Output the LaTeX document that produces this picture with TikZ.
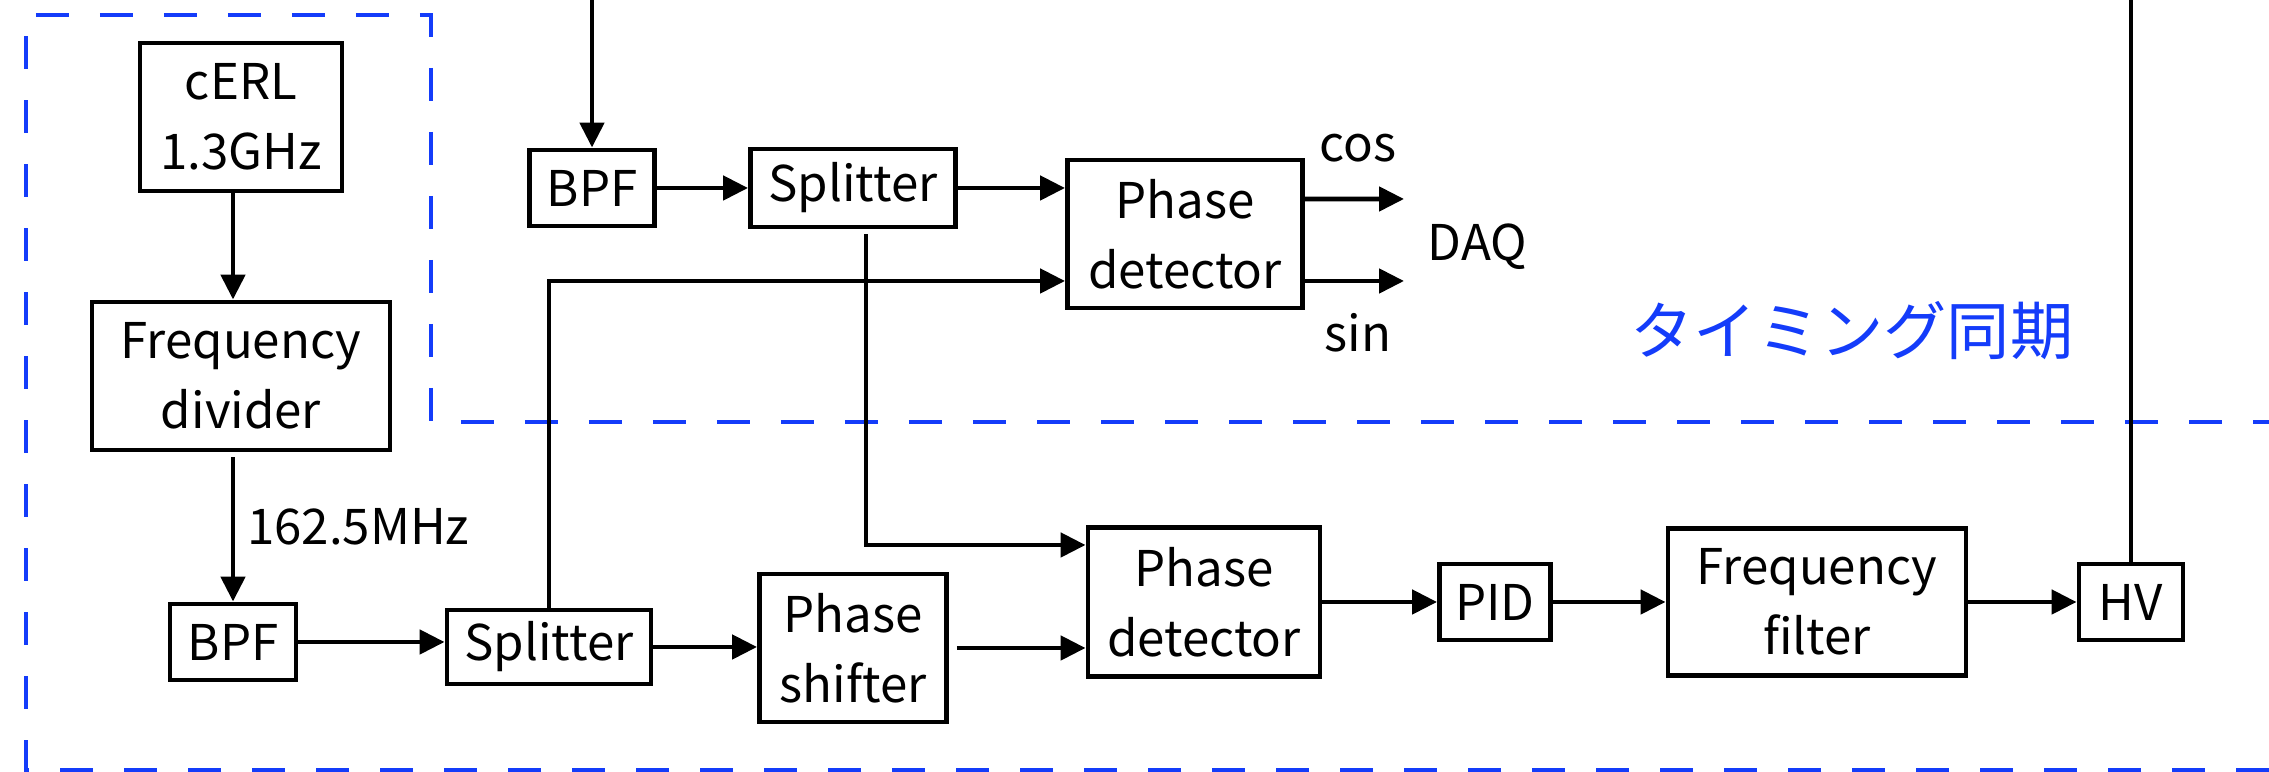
\documentclass[tikz,border=0pt]{standalone}
\usepackage{fontspec}
\setmainfont{Noto Sans CJK JP}
\usepackage{tikz}
\usetikzlibrary{arrows.meta, positioning}
\definecolor{syncblue}{RGB}{20,60,250}

\begin{document}
\begin{tikzpicture}[
		blk/.style={draw, line width=1.4pt, align=center, inner sep=0pt, font=\fontsize{14}{20}\selectfont},
		arr/.style={line width=1.4pt, -{Triangle[length=0.25cm,width=0.24cm]}},
		wire/.style={line width=1.4pt},
		lbl/.style={font=\fontsize{14}{20}\selectfont},
		zone/.style={syncblue, line width=1.4pt, dash pattern=on 0.33cm off 0.31cm}]
			\useasboundingbox (0,0) rectangle (22.69,-7.72);
			% timing sync zone
			\draw[zone] (22.69,-7.70) -- (0.26,-7.70) -- (0.26,-0.15) -- (4.31,-0.15) -- (4.31,-4.22) -- (22.69,-4.22);
			\node[syncblue,font=\fontsize{18}{22}\selectfont] (sync) at (18.52,-3.31) {タイミング同期};
			% reference chain
			\node[blk,minimum width=2.02cm,minimum height=1.48cm] (cerl) at (2.41,-1.17) {cERL\\1.3GHz};
			\node[blk,minimum width=2.98cm,minimum height=1.48cm] (fdiv) at (2.41,-3.76) {Frequency\\divider};
			\node[blk,minimum width=1.26cm,minimum height=0.76cm] (bpfA) at (2.33,-6.42) {BPF};
			\node[blk,minimum width=2.04cm,minimum height=0.74cm] (splA) at (5.49,-6.47) {Splitter};
			\node[blk,minimum width=1.87cm,minimum height=1.48cm] (pshift) at (8.53,-6.48) {Phase\\shifter};
			% monitor chain
			\node[blk,minimum width=1.25cm,minimum height=0.76cm] (bpfB) at (5.92,-1.88) {BPF};
			\node[blk,minimum width=2.05cm,minimum height=0.78cm] (splB) at (8.53,-1.88) {Splitter};
			\node[blk,minimum width=2.35cm,minimum height=1.48cm] (pdB) at (11.85,-2.34) {Phase\\detector};
			% feedback chain
			\node[blk,minimum width=2.32cm,minimum height=1.49cm] (pdA) at (12.04,-6.02) {Phase\\detector};
			\node[blk,minimum width=1.11cm,minimum height=0.76cm] (pid) at (14.95,-6.02) {PID};
			\node[blk,minimum width=2.98cm,minimum height=1.47cm] (ffilt) at (18.17,-6.02) {Frequency\\filter};
			\node[blk,minimum width=1.04cm,minimum height=0.76cm] (hv) at (21.31,-6.02) {HV};
			% free ends
			\coordinate (inB) at (5.92,0);
			\coordinate (outHV) at (21.31,0);
			\coordinate (cosEnd) at (14.04,-1.99);
			\coordinate (sinEnd) at (14.04,-2.81);
			% labels
			\node[lbl,anchor=base] (cos) at (13.58,-1.62) {cos};
			\node[lbl,anchor=base] (sin) at (13.58,-3.52) {sin};
			\node[lbl,anchor=base west,inner sep=0pt] (daq) at (14.27,-2.61) {DAQ};
			% connections
			\draw[arr] (cerl.south -| bpfA) -- (fdiv.north -| bpfA);
			\draw[arr,shorten <=0.05cm] (fdiv.south -| bpfA) -- node[lbl,right] (freq) {162.5MHz} (bpfA);
			\draw[arr] (bpfA.east) -- (bpfA.east -| splA.west);
			\draw[arr] (splA.east) -- (splA.east -| pshift.west);
			\draw[arr,shorten <=0.08cm] (pshift.east) -- (pshift.east -| pdA.west);
			\draw[arr] (splA.north) |- ([yshift=-0.47cm]pdB.west);
			\draw[arr] (inB) -- (bpfB);
			\draw[arr] (bpfB) -- (splB);
			\draw[arr] (splB.east) -- (splB.east -| pdB.west);
			\draw[arr] ([yshift=0.35cm]pdB.east) -- (cosEnd);
			\draw[arr] ([yshift=-0.47cm]pdB.east) -- (sinEnd);
			\draw[arr,shorten <=0.05cm] ([xshift=0.13cm]splB.south) |- ([yshift=0.57cm]pdA.west);
			\draw[arr] (pdA) -- (pid);
			\draw[arr] (pid) -- (ffilt);
			\draw[arr] (ffilt) -- (hv);
			\draw[wire] (hv) -- (outHV);
		\end{tikzpicture}
\end{document}
